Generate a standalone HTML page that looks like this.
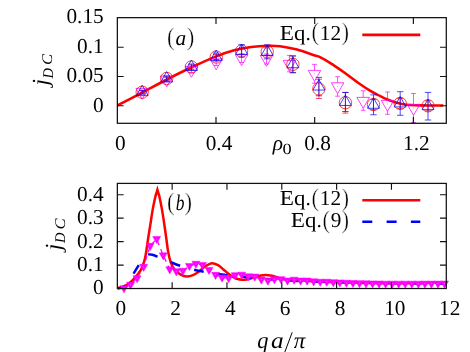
<!DOCTYPE html>
<html><head><meta charset="utf-8"><title>plot</title>
<style>
html,body{margin:0;padding:0;background:#fff;}
body{width:470px;height:352px;overflow:hidden;font-family:"Liberation Serif",serif;}
svg{display:block;}
</style></head><body>
<svg width="470" height="352" viewBox="0 0 470 352">
<rect width="470" height="352" fill="#fff"/>
<g>
<path d="M117.50 105.40 C121.63 103.25 134.07 96.82 142.30 92.50 C150.53 88.18 158.68 83.70 166.90 79.50 C175.12 75.30 183.37 71.15 191.60 67.30 C199.83 63.45 209.22 59.23 216.30 56.40 C223.38 53.57 228.28 51.87 234.10 50.30 C239.92 48.73 245.50 47.75 251.20 47.00 C256.90 46.25 263.50 45.92 268.30 45.80 C273.10 45.68 275.22 45.67 280.00 46.30 C284.78 46.93 291.32 48.10 297.00 49.60 C302.68 51.10 310.27 54.03 314.10 55.30 C317.93 56.57 316.88 55.65 320.00 57.20 C323.12 58.75 328.53 61.88 332.80 64.60 C337.07 67.32 341.33 70.43 345.60 73.50 C349.87 76.57 354.13 80.02 358.40 83.00 C362.67 85.98 367.60 89.25 371.20 91.40 C374.80 93.55 377.40 94.60 380.00 95.90 C382.60 97.20 384.30 98.13 386.80 99.20 C389.30 100.27 392.30 101.47 395.00 102.30 C397.70 103.13 400.47 103.75 403.00 104.20 C405.53 104.65 407.37 104.80 410.20 105.00 C413.03 105.20 416.37 105.32 420.00 105.40 C423.63 105.48 428.12 105.48 432.00 105.50 C435.88 105.52 441.42 105.50 443.30 105.50" fill="none" stroke="#ff0000" stroke-width="2.6" stroke-linejoin="round"/>
<path d="M142.20 90.50 V93.50 M139.80 90.50 H144.60 M139.80 93.50 H144.60" stroke="#ff00ff" stroke-width="0.70" fill="none"/>
<path d="M142.20 99.25 L135.92 88.38 L148.48 88.38 Z" fill="none" stroke="#ff00ff" stroke-width="0.75"/>
<path d="M166.70 77.60 V81.60 M164.30 77.60 H169.10 M164.30 81.60 H169.10" stroke="#ff00ff" stroke-width="0.70" fill="none"/>
<path d="M166.70 86.85 L160.42 75.97 L172.98 75.97 Z" fill="none" stroke="#ff00ff" stroke-width="0.75"/>
<path d="M191.40 67.50 V72.50 M189.00 67.50 H193.80 M189.00 72.50 H193.80" stroke="#ff00ff" stroke-width="0.70" fill="none"/>
<path d="M191.40 77.25 L185.12 66.38 L197.68 66.38 Z" fill="none" stroke="#ff00ff" stroke-width="0.75"/>
<path d="M216.20 59.50 V65.50 M213.80 59.50 H218.60 M213.80 65.50 H218.60" stroke="#ff00ff" stroke-width="0.70" fill="none"/>
<path d="M216.20 69.75 L209.92 58.88 L222.48 58.88 Z" fill="none" stroke="#ff00ff" stroke-width="0.75"/>
<path d="M241.60 54.40 V62.40 M239.20 54.40 H244.00 M239.20 62.40 H244.00" stroke="#ff00ff" stroke-width="0.70" fill="none"/>
<path d="M241.60 65.65 L235.32 54.77 L247.88 54.77 Z" fill="none" stroke="#ff00ff" stroke-width="0.75"/>
<path d="M266.50 54.00 V64.00 M264.10 54.00 H268.90 M264.10 64.00 H268.90" stroke="#ff00ff" stroke-width="0.70" fill="none"/>
<path d="M266.50 66.25 L260.22 55.38 L272.78 55.38 Z" fill="none" stroke="#ff00ff" stroke-width="0.75"/>
<path d="M289.40 55.40 V60.38 M289.40 71.25 V71.80 M289.40 63.65 v0.7 M287.00 55.40 H291.80 M287.00 71.80 H291.80" stroke="#ff00ff" stroke-width="0.70" fill="none"/>
<path d="M289.40 71.25 L283.12 60.38 L295.68 60.38 Z" fill="none" stroke="#ff00ff" stroke-width="0.75"/>
<path d="M314.50 64.40 V70.38 M314.50 81.25 V83.20 M314.50 73.65 v0.7 M312.10 64.40 H316.90 M312.10 83.20 H316.90" stroke="#ff00ff" stroke-width="0.70" fill="none"/>
<path d="M314.50 81.25 L308.22 70.38 L320.78 70.38 Z" fill="none" stroke="#ff00ff" stroke-width="0.75"/>
<path d="M337.60 76.70 V82.78 M337.60 93.65 V96.20 M337.60 86.05 v0.7 M335.20 76.70 H340.00 M335.20 96.20 H340.00" stroke="#ff00ff" stroke-width="0.70" fill="none"/>
<path d="M337.60 93.65 L331.32 82.78 L343.88 82.78 Z" fill="none" stroke="#ff00ff" stroke-width="0.75"/>
<path d="M363.20 90.80 V97.38 M363.20 108.25 V110.30 M363.20 100.65 v0.7 M360.80 90.80 H365.60 M360.80 110.30 H365.60" stroke="#ff00ff" stroke-width="0.70" fill="none"/>
<path d="M363.20 108.25 L356.92 97.38 L369.48 97.38 Z" fill="none" stroke="#ff00ff" stroke-width="0.75"/>
<path d="M387.50 92.00 V100.38 M387.50 111.25 V114.30 M387.50 103.65 v0.7 M385.10 92.00 H389.90 M385.10 114.30 H389.90" stroke="#ff00ff" stroke-width="0.70" fill="none"/>
<path d="M387.50 111.25 L381.22 100.38 L393.78 100.38 Z" fill="none" stroke="#ff00ff" stroke-width="0.75"/>
<path d="M413.50 93.50 V104.38 M413.50 115.25 V122.50 M413.50 107.65 v0.7 M411.10 93.50 H415.90 M411.10 122.50 H415.90" stroke="#ff00ff" stroke-width="0.70" fill="none"/>
<path d="M413.50 115.25 L407.22 104.38 L419.78 104.38 Z" fill="none" stroke="#ff00ff" stroke-width="0.75"/>
<path d="M142.20 90.70 V93.70 M139.20 90.70 H145.20 M139.20 93.70 H145.20" stroke="#ff0000" stroke-width="0.70" fill="none"/>
<circle cx="142.20" cy="92.20" r="6.20" fill="none" stroke="#ff0000" stroke-width="0.75"/>
<path d="M166.70 77.00 V80.00 M163.70 77.00 H169.70 M163.70 80.00 H169.70" stroke="#ff0000" stroke-width="0.70" fill="none"/>
<circle cx="166.70" cy="78.50" r="6.20" fill="none" stroke="#ff0000" stroke-width="0.75"/>
<path d="M191.40 65.00 V69.00 M188.40 65.00 H194.40 M188.40 69.00 H194.40" stroke="#ff0000" stroke-width="0.70" fill="none"/>
<circle cx="191.40" cy="67.00" r="6.20" fill="none" stroke="#ff0000" stroke-width="0.75"/>
<path d="M216.20 54.50 V59.50 M213.20 54.50 H219.20 M213.20 59.50 H219.20" stroke="#ff0000" stroke-width="0.70" fill="none"/>
<circle cx="216.20" cy="57.00" r="6.20" fill="none" stroke="#ff0000" stroke-width="0.75"/>
<path d="M241.60 48.00 V54.00 M238.60 48.00 H244.60 M238.60 54.00 H244.60" stroke="#ff0000" stroke-width="0.70" fill="none"/>
<circle cx="241.60" cy="51.00" r="6.20" fill="none" stroke="#ff0000" stroke-width="0.75"/>
<path d="M267.20 47.80 V55.80 M264.20 47.80 H270.20 M264.20 55.80 H270.20" stroke="#ff0000" stroke-width="0.70" fill="none"/>
<circle cx="267.20" cy="51.80" r="6.20" fill="none" stroke="#ff0000" stroke-width="0.75"/>
<path d="M292.90 55.80 V72.80 M289.90 55.80 H295.90 M289.90 72.80 H295.90" stroke="#ff0000" stroke-width="0.70" fill="none"/>
<circle cx="292.90" cy="64.30" r="6.20" fill="none" stroke="#ff0000" stroke-width="0.75"/>
<path d="M318.90 79.30 V98.50 M315.90 79.30 H321.90 M315.90 98.50 H321.90" stroke="#ff0000" stroke-width="0.70" fill="none"/>
<circle cx="318.90" cy="88.90" r="6.20" fill="none" stroke="#ff0000" stroke-width="0.75"/>
<path d="M345.40 92.30 V113.10 M342.40 92.30 H348.40 M342.40 113.10 H348.40" stroke="#ff0000" stroke-width="0.70" fill="none"/>
<circle cx="345.40" cy="102.70" r="6.20" fill="none" stroke="#ff0000" stroke-width="0.75"/>
<path d="M373.50 99.50 V109.50 M370.50 99.50 H376.50 M370.50 109.50 H376.50" stroke="#ff0000" stroke-width="0.70" fill="none"/>
<circle cx="373.50" cy="104.50" r="6.20" fill="none" stroke="#ff0000" stroke-width="0.75"/>
<path d="M400.20 98.40 V108.40 M397.20 98.40 H403.20 M397.20 108.40 H403.20" stroke="#ff0000" stroke-width="0.70" fill="none"/>
<circle cx="400.20" cy="103.40" r="6.20" fill="none" stroke="#ff0000" stroke-width="0.75"/>
<path d="M428.00 100.80 V110.80 M425.00 100.80 H431.00 M425.00 110.80 H431.00" stroke="#ff0000" stroke-width="0.70" fill="none"/>
<circle cx="428.00" cy="105.80" r="6.20" fill="none" stroke="#ff0000" stroke-width="0.75"/>
<path d="M142.20 90.20 V94.20 M139.00 90.20 H145.40 M139.00 94.20 H145.40" stroke="#0000ff" stroke-width="0.70" fill="none"/>
<path d="M142.20 85.30 L136.22 95.65 L148.18 95.65 Z" fill="none" stroke="#0000ff" stroke-width="0.75"/>
<path d="M166.70 76.00 V81.00 M163.50 76.00 H169.90 M163.50 81.00 H169.90" stroke="#0000ff" stroke-width="0.70" fill="none"/>
<path d="M166.70 71.60 L160.72 81.95 L172.68 81.95 Z" fill="none" stroke="#0000ff" stroke-width="0.75"/>
<path d="M191.40 64.00 V70.00 M188.20 64.00 H194.60 M188.20 70.00 H194.60" stroke="#0000ff" stroke-width="0.70" fill="none"/>
<path d="M191.40 60.10 L185.42 70.45 L197.38 70.45 Z" fill="none" stroke="#0000ff" stroke-width="0.75"/>
<path d="M216.20 53.00 V61.00 M213.00 53.00 H219.40 M213.00 61.00 H219.40" stroke="#0000ff" stroke-width="0.70" fill="none"/>
<path d="M216.20 50.10 L210.22 60.45 L222.18 60.45 Z" fill="none" stroke="#0000ff" stroke-width="0.75"/>
<path d="M241.60 44.70 V57.10 M238.40 44.70 H244.80 M238.40 57.10 H244.80" stroke="#0000ff" stroke-width="0.70" fill="none"/>
<path d="M241.60 44.00 L235.62 54.35 L247.58 54.35 Z" fill="none" stroke="#0000ff" stroke-width="0.75"/>
<path d="M267.20 44.90 V58.90 M264.00 44.90 H270.40 M264.00 58.90 H270.40" stroke="#0000ff" stroke-width="0.70" fill="none"/>
<path d="M267.20 45.00 L261.22 55.35 L273.18 55.35 Z" fill="none" stroke="#0000ff" stroke-width="0.75"/>
<path d="M292.90 56.00 V72.60 M289.70 56.00 H296.10 M289.70 72.60 H296.10" stroke="#0000ff" stroke-width="0.70" fill="none"/>
<path d="M292.90 57.40 L286.92 67.75 L298.88 67.75 Z" fill="none" stroke="#0000ff" stroke-width="0.75"/>
<path d="M318.90 77.40 V95.80 M315.70 77.40 H322.10 M315.70 95.80 H322.10" stroke="#0000ff" stroke-width="0.70" fill="none"/>
<path d="M318.90 79.70 L312.92 90.05 L324.88 90.05 Z" fill="none" stroke="#0000ff" stroke-width="0.75"/>
<path d="M345.40 92.50 V111.50 M342.20 92.50 H348.60 M342.20 111.50 H348.60" stroke="#0000ff" stroke-width="0.70" fill="none"/>
<path d="M345.40 95.10 L339.42 105.45 L351.38 105.45 Z" fill="none" stroke="#0000ff" stroke-width="0.75"/>
<path d="M373.50 94.85 V114.75 M370.30 94.85 H376.70 M370.30 114.75 H376.70" stroke="#0000ff" stroke-width="0.70" fill="none"/>
<path d="M373.50 97.90 L367.52 108.25 L379.48 108.25 Z" fill="none" stroke="#0000ff" stroke-width="0.75"/>
<path d="M400.20 91.70 V115.30 M397.00 91.70 H403.40 M397.00 115.30 H403.40" stroke="#0000ff" stroke-width="0.70" fill="none"/>
<path d="M400.20 96.60 L394.22 106.95 L406.18 106.95 Z" fill="none" stroke="#0000ff" stroke-width="0.75"/>
<path d="M428.00 92.40 V120.00 M424.80 92.40 H431.20 M424.80 120.00 H431.20" stroke="#0000ff" stroke-width="0.70" fill="none"/>
<path d="M428.00 99.30 L422.02 109.65 L433.98 109.65 Z" fill="none" stroke="#0000ff" stroke-width="0.75"/>
<path d="M362.3 34.9 H420.3" stroke="#ff0000" stroke-width="2.6"/>
</g>
<rect x="117.35" y="17.65" width="328.95" height="105.65" fill="none" stroke="#111" stroke-width="1.25"/><path d="M216.00 123.30 v-6.30 M216.00 17.65 v6.30 M314.68 123.30 v-6.30 M314.68 17.65 v6.30 M413.36 123.30 v-6.30 M413.36 17.65 v6.30 M117.35 105.70 h6.30 M446.30 105.70 h-6.30 M117.35 76.47 h6.30 M446.30 76.47 h-6.30 M117.35 47.25 h6.30 M446.30 47.25 h-6.30 " stroke="#111" stroke-width="1.15" fill="none"/>
<path d="M117.50 288.30 C117.75 288.22 118.17 288.05 119.00 287.80 C119.83 287.55 121.18 287.30 122.50 286.80 C123.82 286.30 125.48 285.63 126.90 284.80 C128.32 283.97 129.67 282.98 131.00 281.80 C132.33 280.62 133.73 279.00 134.90 277.70 C136.07 276.40 137.00 275.32 138.00 274.00 C139.00 272.68 140.07 271.30 140.90 269.80 C141.73 268.30 142.33 266.83 143.00 265.00 C143.67 263.17 144.33 261.22 144.90 258.80 C145.47 256.38 145.90 253.63 146.40 250.50 C146.90 247.37 147.25 244.25 147.90 240.00 C148.55 235.75 149.52 229.98 150.30 225.00 C151.08 220.02 151.77 214.77 152.60 210.10 C153.43 205.43 154.67 199.83 155.30 197.00 C155.93 194.17 156.05 194.32 156.40 193.10 C156.75 191.88 157.23 190.27 157.40 189.70 L157.40 189.70 C157.57 190.27 158.05 191.88 158.40 193.10 C158.75 194.32 158.88 194.17 159.50 197.00 C160.12 199.83 161.28 205.43 162.10 210.10 C162.92 214.77 163.67 220.02 164.40 225.00 C165.13 229.98 165.87 235.50 166.50 240.00 C167.13 244.50 167.50 248.30 168.20 252.00 C168.90 255.70 169.62 259.23 170.70 262.20 C171.78 265.17 173.03 267.73 174.70 269.80 C176.37 271.87 178.68 273.48 180.70 274.60 C182.72 275.72 184.75 276.40 186.80 276.50 C188.85 276.60 190.97 276.03 193.00 275.20 C195.03 274.37 197.00 272.95 199.00 271.50 C201.00 270.05 202.90 267.88 205.00 266.50 C207.10 265.12 209.43 263.42 211.60 263.20 C213.77 262.98 215.93 264.07 218.00 265.20 C220.07 266.33 222.00 268.37 224.00 270.00 C226.00 271.63 228.00 273.58 230.00 275.00 C232.00 276.42 234.10 277.72 236.00 278.50 C237.90 279.28 239.40 279.58 241.40 279.70 C243.40 279.82 245.90 279.58 248.00 279.20 C250.10 278.82 252.00 277.98 254.00 277.40 C256.00 276.82 258.08 276.12 260.00 275.70 C261.92 275.28 263.50 274.88 265.50 274.90 C267.50 274.92 269.92 275.35 272.00 275.80 C274.08 276.25 276.00 277.00 278.00 277.60 C280.00 278.20 282.00 278.90 284.00 279.40 C286.00 279.90 288.00 280.33 290.00 280.60 C292.00 280.87 293.67 281.00 296.00 281.00 C298.33 281.00 301.33 280.57 304.00 280.60 C306.67 280.63 309.33 281.00 312.00 281.20 C314.67 281.40 317.00 281.67 320.00 281.80 C323.00 281.93 326.67 281.92 330.00 282.00 C333.33 282.08 336.67 282.20 340.00 282.30 C343.33 282.40 346.33 282.50 350.00 282.60 C353.67 282.70 357.83 282.83 362.00 282.90 C366.17 282.97 370.33 282.95 375.00 283.00 C379.67 283.05 385.00 283.17 390.00 283.20 C395.00 283.23 400.00 283.23 405.00 283.20 C410.00 283.17 415.00 283.10 420.00 283.00 C425.00 282.90 430.63 282.63 435.00 282.60 C439.37 282.57 444.33 282.77 446.20 282.80" fill="none" stroke="#ff0000" stroke-width="2.5" stroke-linejoin="miter" stroke-miterlimit="10"/>
<path d="M117.60 288.30 C118.51 288.11 121.25 288.18 123.08 287.14 C124.90 286.09 126.73 284.41 128.56 282.02 C130.38 279.63 132.30 275.66 134.03 272.79 C135.77 269.92 137.37 267.35 138.96 264.82 C140.56 262.29 142.02 259.33 143.62 257.61 C145.22 255.89 146.95 254.92 148.55 254.49 C150.15 254.07 151.65 254.67 153.21 255.05 C154.76 255.44 156.04 256.06 157.86 256.80 C159.69 257.53 161.93 258.54 164.16 259.47 C166.40 260.40 168.59 261.35 171.28 262.40 C173.98 263.45 176.35 264.53 180.32 265.79 C184.29 267.06 191.19 269.02 195.11 270.00 C199.04 270.99 199.77 271.00 203.88 271.70 C207.99 272.40 215.61 273.59 219.76 274.21 C223.92 274.83 224.92 274.97 228.80 275.40 C232.68 275.83 238.66 276.31 243.05 276.79 C247.43 277.28 248.62 277.78 255.10 278.30 C261.58 278.83 272.90 279.47 281.94 279.93 C290.98 280.39 300.20 280.74 309.33 281.09 C318.46 281.44 327.59 281.77 336.72 282.02 C345.85 282.27 354.98 282.43 364.11 282.60 C373.24 282.78 382.37 282.93 391.50 283.07 C400.63 283.20 409.76 283.32 418.89 283.42 C428.02 283.51 441.71 283.61 446.28 283.65" fill="none" stroke="#0000ff" stroke-width="2.5" stroke-dasharray="10 14.3" stroke-dashoffset="1.4"/>
<path d="M124.00 288.20 L130.54 284.80 L137.08 278.30 L143.62 266.90 L150.16 245.90 L156.71 239.00 L163.25 255.40 L169.79 269.40 L176.33 271.40 L182.87 270.80 L189.41 266.00 L195.95 263.80 L202.49 265.00 L209.03 270.00 L215.57 274.90 L222.12 277.60 L228.66 278.10 L235.20 275.20 L241.74 274.70 L248.28 276.40 L254.82 276.60 L261.36 279.60 L267.90 280.70 L274.44 279.30 L280.99 279.20 L287.53 280.60 L294.07 279.70 L300.61 280.60 L307.15 280.60 L313.69 281.40 L320.23 281.80 L326.77 281.80 L333.31 282.20 L339.85 282.50 L346.39 282.80 L352.94 283.00 L359.48 283.20 L366.02 283.40 L372.56 283.50 L379.10 283.60 L385.64 283.70 L392.18 283.70 L398.72 283.70 L405.26 283.70 L411.81 283.70 L418.35 283.70 L424.89 283.70 L431.43 283.70 L437.97 283.70 L444.51 283.60" fill="none" stroke="#ff00ff" stroke-width="1.25" stroke-dasharray="5 4"/>
<path d="M124.00 292.75 L120.00 285.65 L128.00 285.65 Z M130.54 289.35 L126.54 282.25 L134.54 282.25 Z M137.08 282.85 L133.08 275.75 L141.08 275.75 Z M143.62 271.45 L139.62 264.35 L147.62 264.35 Z M150.16 250.45 L146.16 243.35 L154.16 243.35 Z M156.71 243.55 L152.71 236.45 L160.71 236.45 Z M163.25 259.95 L159.25 252.85 L167.25 252.85 Z M169.79 273.95 L165.79 266.85 L173.79 266.85 Z M176.33 275.95 L172.33 268.85 L180.33 268.85 Z M182.87 275.35 L178.87 268.25 L186.87 268.25 Z M189.41 270.55 L185.41 263.45 L193.41 263.45 Z M195.95 268.35 L191.95 261.25 L199.95 261.25 Z M202.49 269.55 L198.49 262.45 L206.49 262.45 Z M209.03 274.55 L205.03 267.45 L213.03 267.45 Z M215.57 279.45 L211.57 272.35 L219.57 272.35 Z M222.12 282.15 L218.12 275.05 L226.12 275.05 Z M228.66 282.65 L224.66 275.55 L232.66 275.55 Z M235.20 279.75 L231.20 272.65 L239.20 272.65 Z M241.74 279.25 L237.74 272.15 L245.74 272.15 Z M248.28 280.95 L244.28 273.85 L252.28 273.85 Z M254.82 281.15 L250.82 274.05 L258.82 274.05 Z M261.36 284.15 L257.36 277.05 L265.36 277.05 Z M267.90 285.25 L263.90 278.15 L271.90 278.15 Z M274.44 283.85 L270.44 276.75 L278.44 276.75 Z M280.99 283.75 L276.99 276.65 L284.99 276.65 Z M287.53 285.15 L283.53 278.05 L291.53 278.05 Z M294.07 284.25 L290.07 277.15 L298.07 277.15 Z M300.61 285.15 L296.61 278.05 L304.61 278.05 Z M307.15 285.15 L303.15 278.05 L311.15 278.05 Z M313.69 285.95 L309.69 278.85 L317.69 278.85 Z M320.23 286.35 L316.23 279.25 L324.23 279.25 Z M326.77 286.35 L322.77 279.25 L330.77 279.25 Z M333.31 286.75 L329.31 279.65 L337.31 279.65 Z M339.85 287.05 L335.85 279.95 L343.85 279.95 Z M346.39 287.35 L342.39 280.25 L350.39 280.25 Z M352.94 287.55 L348.94 280.45 L356.94 280.45 Z M359.48 287.75 L355.48 280.65 L363.48 280.65 Z M366.02 287.95 L362.02 280.85 L370.02 280.85 Z M372.56 288.05 L368.56 280.95 L376.56 280.95 Z M379.10 288.15 L375.10 281.05 L383.10 281.05 Z M385.64 288.25 L381.64 281.15 L389.64 281.15 Z M392.18 288.25 L388.18 281.15 L396.18 281.15 Z M398.72 288.25 L394.72 281.15 L402.72 281.15 Z M405.26 288.25 L401.26 281.15 L409.26 281.15 Z M411.81 288.25 L407.81 281.15 L415.81 281.15 Z M418.35 288.25 L414.35 281.15 L422.35 281.15 Z M424.89 288.25 L420.89 281.15 L428.89 281.15 Z M431.43 288.25 L427.43 281.15 L435.43 281.15 Z M437.97 288.25 L433.97 281.15 L441.97 281.15 Z M444.51 288.15 L440.51 281.05 L448.51 281.05 Z " fill="#ff00ff" stroke="#ff00ff" stroke-width="0.5" stroke-linejoin="miter"/>
<g fill="#ff78ff"><circle cx="124.00" cy="288.10" r="0.5"/><circle cx="130.54" cy="284.70" r="0.5"/><circle cx="137.08" cy="278.20" r="0.5"/><circle cx="143.62" cy="266.80" r="0.5"/><circle cx="150.16" cy="245.80" r="0.5"/><circle cx="156.71" cy="238.90" r="0.5"/><circle cx="163.25" cy="255.30" r="0.5"/><circle cx="169.79" cy="269.30" r="0.5"/><circle cx="176.33" cy="271.30" r="0.5"/><circle cx="182.87" cy="270.70" r="0.5"/><circle cx="189.41" cy="265.90" r="0.5"/><circle cx="195.95" cy="263.70" r="0.5"/><circle cx="202.49" cy="264.90" r="0.5"/><circle cx="209.03" cy="269.90" r="0.5"/><circle cx="215.57" cy="274.80" r="0.5"/><circle cx="222.12" cy="277.50" r="0.5"/><circle cx="228.66" cy="278.00" r="0.5"/><circle cx="235.20" cy="275.10" r="0.5"/><circle cx="241.74" cy="274.60" r="0.5"/><circle cx="248.28" cy="276.30" r="0.5"/><circle cx="254.82" cy="276.50" r="0.5"/><circle cx="261.36" cy="279.50" r="0.5"/><circle cx="267.90" cy="280.60" r="0.5"/><circle cx="274.44" cy="279.20" r="0.5"/><circle cx="280.99" cy="279.10" r="0.5"/><circle cx="287.53" cy="280.50" r="0.5"/><circle cx="294.07" cy="279.60" r="0.5"/><circle cx="300.61" cy="280.50" r="0.5"/><circle cx="307.15" cy="280.50" r="0.5"/><circle cx="313.69" cy="281.30" r="0.5"/><circle cx="320.23" cy="281.70" r="0.5"/><circle cx="326.77" cy="281.70" r="0.5"/><circle cx="333.31" cy="282.10" r="0.5"/><circle cx="339.85" cy="282.40" r="0.5"/><circle cx="346.39" cy="282.70" r="0.5"/><circle cx="352.94" cy="282.90" r="0.5"/><circle cx="359.48" cy="283.10" r="0.5"/><circle cx="366.02" cy="283.30" r="0.5"/><circle cx="372.56" cy="283.40" r="0.5"/><circle cx="379.10" cy="283.50" r="0.5"/><circle cx="385.64" cy="283.60" r="0.5"/><circle cx="392.18" cy="283.60" r="0.5"/><circle cx="398.72" cy="283.60" r="0.5"/><circle cx="405.26" cy="283.60" r="0.5"/><circle cx="411.81" cy="283.60" r="0.5"/><circle cx="418.35" cy="283.60" r="0.5"/><circle cx="424.89" cy="283.60" r="0.5"/><circle cx="431.43" cy="283.60" r="0.5"/><circle cx="437.97" cy="283.60" r="0.5"/><circle cx="444.51" cy="283.50" r="0.5"/></g>
<path d="M362.3 200.25 H420.3" stroke="#ff0000" stroke-width="2.5"/>
<path d="M362.3 221.75 H420.3" stroke="#0000ff" stroke-width="2.5" stroke-dasharray="10 14.3"/>
<rect x="117.35" y="183.40" width="328.95" height="105.10" fill="none" stroke="#111" stroke-width="1.25"/><path d="M172.15 288.50 v-6.30 M172.15 183.40 v6.30 M226.97 288.50 v-6.30 M226.97 183.40 v6.30 M281.80 288.50 v-6.30 M281.80 183.40 v6.30 M336.62 288.50 v-6.30 M336.62 183.40 v6.30 M391.45 288.50 v-6.30 M391.45 183.40 v6.30 M117.35 265.06 h6.30 M446.30 265.06 h-6.30 M117.35 241.62 h6.30 M446.30 241.62 h-6.30 M117.35 218.18 h6.30 M446.30 218.18 h-6.30 M117.35 194.74 h6.30 M446.30 194.74 h-6.30 " stroke="#111" stroke-width="1.15" fill="none"/>
<g font-family="Liberation Serif, serif" fill="#000" stroke="#fff" stroke-width="0" opacity="0.999" text-rendering="geometricPrecision">
<text x="103.70" y="23.45" font-size="21.30" text-anchor="end" >0.15</text>
<text x="103.70" y="53.05" font-size="21.30" text-anchor="end" >0.1</text>
<text x="103.70" y="82.27" font-size="21.30" text-anchor="end" >0.05</text>
<text x="103.70" y="111.50" font-size="21.30" text-anchor="end" >0</text>
<text x="120.32" y="150.40" font-size="21.30" text-anchor="middle" >0</text>
<text x="219.00" y="150.40" font-size="21.30" text-anchor="middle" >0.4</text>
<text x="317.68" y="150.40" font-size="21.30" text-anchor="middle" >0.8</text>
<text x="416.36" y="150.40" font-size="21.30" text-anchor="middle" >1.2</text>
<text x="103.70" y="200.64" font-size="21.30" text-anchor="end" >0.4</text>
<text x="103.70" y="224.08" font-size="21.30" text-anchor="end" >0.3</text>
<text x="103.70" y="247.52" font-size="21.30" text-anchor="end" >0.2</text>
<text x="103.70" y="270.96" font-size="21.30" text-anchor="end" >0.1</text>
<text x="103.70" y="294.40" font-size="21.30" text-anchor="end" >0</text>
<text x="120.72" y="315.40" font-size="21.30" text-anchor="middle" >0</text>
<text x="175.55" y="315.40" font-size="21.30" text-anchor="middle" >2</text>
<text x="230.37" y="315.40" font-size="21.30" text-anchor="middle" >4</text>
<text x="285.20" y="315.40" font-size="21.30" text-anchor="middle" >6</text>
<text x="340.02" y="315.40" font-size="21.30" text-anchor="middle" >8</text>
<text x="394.85" y="315.40" font-size="21.30" text-anchor="middle" >10</text>
<text x="449.68" y="315.40" font-size="21.30" text-anchor="middle" >12</text>
<text transform="translate(279.75 39.70) scale(1.090 1)" font-size="21.30">E</text>
<text transform="translate(294.10 39.70) scale(1.070 1)" font-size="21.30">q</text>
<text transform="translate(305.40 39.70) scale(1.000 1)" font-size="21.30">.</text>
<text transform="translate(311.60 40.30) scale(0.900 1)" font-size="25.30" stroke="#fff" stroke-width="0.45">(</text>
<text transform="translate(319.80 39.70) scale(1.000 1)" font-size="21.30">1</text>
<text transform="translate(330.40 39.70) scale(1.000 1)" font-size="21.30">2</text>
<text transform="translate(341.50 40.30) scale(0.900 1)" font-size="25.30" stroke="#fff" stroke-width="0.45">)</text>
<text transform="translate(279.75 205.30) scale(1.090 1)" font-size="21.30">E</text>
<text transform="translate(294.10 205.30) scale(1.070 1)" font-size="21.30">q</text>
<text transform="translate(305.40 205.30) scale(1.000 1)" font-size="21.30">.</text>
<text transform="translate(311.60 205.90) scale(0.900 1)" font-size="25.30" stroke="#fff" stroke-width="0.45">(</text>
<text transform="translate(319.80 205.30) scale(1.000 1)" font-size="21.30">1</text>
<text transform="translate(330.40 205.30) scale(1.000 1)" font-size="21.30">2</text>
<text transform="translate(341.50 205.90) scale(0.900 1)" font-size="25.30" stroke="#fff" stroke-width="0.45">)</text>
<text transform="translate(290.75 227.10) scale(1.090 1)" font-size="21.30">E</text>
<text transform="translate(305.10 227.10) scale(1.070 1)" font-size="21.30">q</text>
<text transform="translate(316.40 227.10) scale(1.000 1)" font-size="21.30">.</text>
<text transform="translate(322.60 227.70) scale(0.900 1)" font-size="25.30" stroke="#fff" stroke-width="0.45">(</text>
<text transform="translate(330.70 227.10) scale(1.000 1)" font-size="21.30">9</text>
<text transform="translate(341.50 227.70) scale(0.900 1)" font-size="25.30" stroke="#fff" stroke-width="0.45">)</text>
<text transform="translate(167.00 45.30) scale(0.900 1)" font-size="25.30" stroke="#fff" stroke-width="0.45">(</text>
<text transform="translate(175.40 44.80) scale(1.000 1)" font-size="21.30" font-style="italic">a</text>
<text transform="translate(186.75 45.30) scale(0.900 1)" font-size="25.30" stroke="#fff" stroke-width="0.45">)</text>
<text transform="translate(167.00 210.40) scale(0.900 1)" font-size="25.30" stroke="#fff" stroke-width="0.45">(</text>
<text transform="translate(175.80 209.70) scale(0.780 1)" font-size="22.30" font-style="italic">b</text>
<text transform="translate(184.55 210.40) scale(0.900 1)" font-size="25.30" stroke="#fff" stroke-width="0.45">)</text>
<text x="272.8" y="150.3" font-size="21.30" font-style="italic">ρ</text>
<text transform="translate(282.6 154.2) scale(1.18 1)" font-size="15.5">0</text>
<text transform="translate(257.25 348.30) scale(0.970 1)" font-size="23.00" font-style="italic">q</text>
<text transform="translate(271.05 348.30) scale(1.100 1)" font-size="23.00" font-style="italic">a</text>
<path d="M292.2 332.3 L284.3 353.4" stroke="#000" stroke-width="1.0" fill="none"/>
<text transform="translate(293.65 348.30) scale(1.000 1)" font-size="23.00" font-style="italic">π</text>
<text transform="translate(48.20 85.60) rotate(-90) scale(1.000 1)" font-size="23.00" font-style="italic">j</text>
<text transform="translate(52.50 78.40) rotate(-90) scale(0.970 1)" font-size="14.80" font-style="italic">D</text>
<text transform="translate(52.10 64.90) rotate(-90) scale(1.120 1)" font-size="14.80" font-style="italic">C</text>
<text transform="translate(61.10 250.30) rotate(-90) scale(1.000 1)" font-size="23.00" font-style="italic">j</text>
<text transform="translate(65.40 243.10) rotate(-90) scale(0.970 1)" font-size="14.80" font-style="italic">D</text>
<text transform="translate(65.00 229.60) rotate(-90) scale(1.120 1)" font-size="14.80" font-style="italic">C</text>
</g>
</svg>
</body></html>
